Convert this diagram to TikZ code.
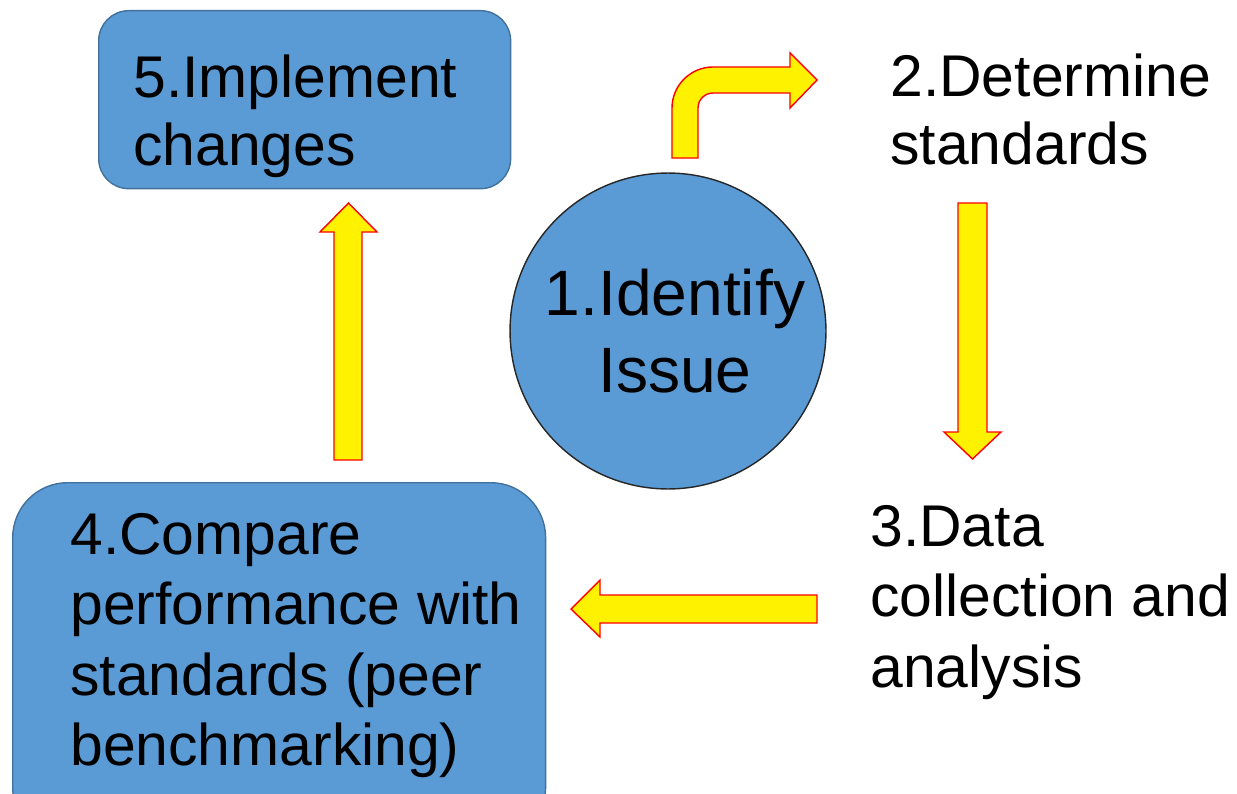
\documentclass[tikz,border=0pt]{standalone}
\usepackage{fontspec}
\setmainfont{Liberation Sans}
\usetikzlibrary{positioning}
\definecolor{stepblue}{RGB}{91,155,213}
\definecolor{edgeblue}{RGB}{65,113,156}
\tikzset{
    panel/.style={
        draw=edgeblue,
        fill=stepblue,
        line width=0.8pt,
        inner sep=0pt
    },
    steptext/.style={
        align=left,
        anchor=north west,
        inner sep=0pt,
        font=\fontsize{33.5}{39}\selectfont
    },
    fatarrow/.style={draw=red, fill=yellow, line width=0.8pt, line join=miter}
}

\begin{document}
\begin{tikzpicture}[x=0.02cm,y=-0.02cm]
\useasboundingbox (0,0) rectangle (1237,794);
\clip (0,0) rectangle (1237,794);

% Boxes and circle
\node[panel, rounded corners=0.6cm, anchor=north west,
      minimum width=8.24cm, minimum height=3.56cm] (implbox) at (98,10) {};
\node[panel, rounded corners=1.1cm, anchor=north west,
      minimum width=10.66cm, minimum height=7.2cm] (comparebox) at (12,482) {};
\node[panel, draw=black!85, circle, minimum size=6.32cm] (issue) at (668,331) {};

% Step texts
\node[steptext] (implement) at (133,54) {5.Implement\\changes};
\node[steptext] (determine) at (890,53) {2.Determine\\standards};
\node[steptext, font=\fontsize{33.5}{40}\selectfont] (collect) at (870,505) {3.Data\\collection and\\analysis};
\node[steptext, font=\fontsize{33.5}{40}\selectfont] (compare) at (70,513) {4.Compare\\performance with\\standards (peer\\benchmarking)};
\node[steptext, anchor=center, align=center, font=\fontsize{36.5}{43.5}\selectfont]
     (identify) at (675,331) {1.Identify\\Issue};

% Bent arrow: issue -> standards
\filldraw[fatarrow] (672,158) -- (672,108) .. controls (672,85.4) and (690.4,67) .. (713,67)
    -- (790,67) -- (790,53) -- (817,80) -- (790,108) -- (790,93) -- (713,93)
    .. controls (704.7,93) and (698,99.7) .. (698,108) -- (698,158) -- cycle;

% Straight arrows
\filldraw[fatarrow] (958,203) -- (987,203) -- (987,432) -- (1001,432) -- (972.5,459)
    -- (944,432) -- (958,432) -- cycle;
\filldraw[fatarrow] (817,595) -- (817,623) -- (600,623) -- (600,637) -- (571,609)
    -- (600,580) -- (600,595) -- cycle;
\filldraw[fatarrow] (334,460) -- (334,232) -- (320,232) -- (348.5,203) -- (377,232)
    -- (362,232) -- (362,460) -- cycle;
\end{tikzpicture}
\end{document}
